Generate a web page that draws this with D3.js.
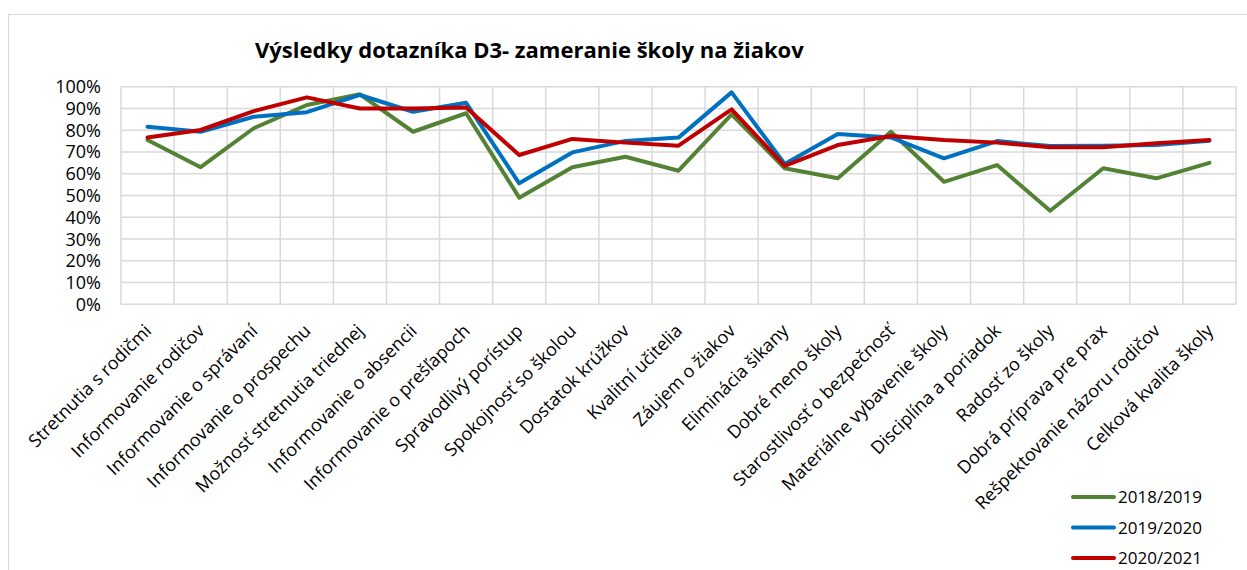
<!DOCTYPE html>
<meta charset="utf-8">
<script src="https://d3js.org/d3.v7.min.js"></script>
<style>
body { margin: 0; background: #fff; }
text { font-family: "Open Sans", sans-serif; fill: #000; }
.grid line { stroke: #d9d9d9; stroke-width: 1.5px; }
.serie { fill: none; stroke-width: 4px; stroke-linejoin: round; stroke-linecap: round; }
</style>
<body>
<script>

let width = 1247,
    height = 570;

let categories = ["Stretnutia s rodičmi", "Informovanie rodičov", "Informovanie o správaní",
  "Informovanie o prospechu", "Možnosť stretnutia triednej", "Informovanie o absencii",
  "Informovanie o prešľapoch", "Spravodlivý porístup", "Spokojnosť so školou",
  "Dostatok krúžkov", "Kvalitní učitelia", "Záujem o žiakov", "Eliminácia šikany",
  "Dobré meno školy", "Starostlivosť o bezpečnosť", "Materiálne vybavenie školy",
  "Disciplína a poriadok", "Radosť zo školy", "Dobrá príprava pre prax",
  "Rešpektovanie názoru rodičov", "Celková kvalita školy"];

let years = ["2018/2019", "2019/2020", "2020/2021"];
let colors = ["#548235", "#0070c0", "#c00000"];

let v2018 = [75.5, 63, 80.9, 91.6, 96.5, 79.3, 87.8, 49, 63, 67.8, 61.4, 87.3, 62.5, 57.9, 79.3, 56.3, 64, 43, 62.5, 57.9, 65];
let v2019 = [81.6, 79.3, 86.2, 88.3, 96.2, 88.5, 92.6, 55.6, 69.8, 75.1, 76.6, 97.4, 64.5, 78.3, 76.7, 67.1, 75, 72.7, 72.9, 73.2, 75.2];
let v2020 = [76.7, 80.1, 88.8, 95.1, 90, 90, 90.4, 68.6, 76, 74.3, 72.9, 89.6, 63.6, 73.2, 77.3, 75.5, 74.3, 72.2, 72.2, 74, 75.5];

let yTicks = [0, 10, 20, 30, 40, 50, 60, 70, 80, 90, 100];

let series = [v2018, v2019, v2020];

let svg = d3.select("body").append("svg")
    .attr("width", width)
    .attr("height", height);

// outer chart border
svg.append("rect")
    .attr("x", 8.5).attr("y", 14.5)
    .attr("width", 1250).attr("height", 570)
    .attr("fill", "none")
    .attr("stroke", "#d9d9d9")
    .attr("stroke-width", 1);

let x = d3.scaleBand()
    .domain(categories)
    .range([121, 1236]);

let y = d3.scaleLinear()
    .domain([0, 100])
    .range([304.3, 86.7]);

let grid = svg.append("g").attr("class", "grid");

grid.selectAll(".h")
    .data(yTicks)
    .enter().append("line")
    .attr("x1", 121).attr("x2", 1236)
    .attr("y1", d => y(d)).attr("y2", d => y(d));

grid.selectAll(".v")
    .data(categories.concat([null]))
    .enter().append("line")
    .attr("x1", (d, i) => 121 + i * x.step())
    .attr("x2", (d, i) => 121 + i * x.step())
    .attr("y1", y(0)).attr("y2", y(100));

// y labels
svg.append("g").selectAll("text")
    .data(yTicks)
    .enter().append("text")
    .attr("x", 101)
    .attr("y", d => y(d))
    .attr("dy", "0.36em")
    .attr("text-anchor", "end")
    .style("font-size", "18px")
    .text(d => d + "%");

// x labels
svg.append("g").selectAll("text")
    .data(categories)
    .enter().append("text")
    .attr("transform", d => "translate(" + (x(d) + x.bandwidth() / 2 - 4) + ",323) rotate(-45)")
    .attr("text-anchor", "end")
    .attr("dy", "0.7em")
    .style("font-size", "18px")
    .text(d => d);

let line = d3.line()
    .x((d, i) => x(categories[i]) + x.bandwidth() / 2)
    .y(d => y(d));

svg.selectAll(".serie")
    .data(series)
    .enter().append("path")
    .attr("class", "serie")
    .attr("stroke", (d, i) => colors[i])
    .attr("d", line);

// title
svg.append("text")
    .attr("x", 255)
    .attr("y", 58)
    .style("font-size", "22px")
    .style("font-weight", "bold")
    .text("Výsledky dotazníka D3- zameranie školy na žiakov");

// legend
let legend = svg.append("g").selectAll("g")
    .data(years)
    .enter().append("g")
    .attr("transform", (d, i) => "translate(1073," + (497 + i * 30.5) + ")");

legend.append("line")
    .attr("x1", 0).attr("x2", 41)
    .attr("stroke", (d, i) => colors[i])
    .attr("stroke-width", 4)
    .attr("stroke-linecap", "round");

legend.append("text")
    .attr("x", 45)
    .attr("dy", "0.36em")
    .style("font-size", "17px")
    .text(d => d);

</script>
